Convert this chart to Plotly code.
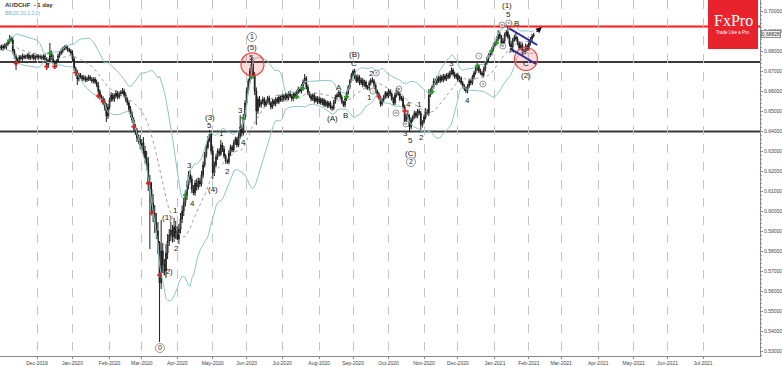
import numpy as np
import pandas as pd
import plotly.graph_objects as go

# ---------------- data ----------------
START_DATE = "2019-10-30"
FIRST_OPEN = 0.6815
# daily closes in pips (x 0.0001)
CLOSE_PIPS = [
    6820, 6815, 6825, 6818, 6835, 6848, 6862, 6855, 6800, 6772,
    6745, 6758, 6770, 6762, 6775, 6768, 6772, 6780, 6765, 6770,
    6778, 6762, 6770, 6775, 6768, 6772, 6765, 6775, 6760, 6728,
    6748, 6792, 6770, 6745, 6728, 6750, 6775, 6790, 6800, 6812,
    6822, 6815, 6808, 6800, 6790, 6760, 6712, 6690, 6660, 6680,
    6672, 6660, 6668, 6655, 6662, 6670, 6658, 6650, 6660, 6645,
    6630, 6598, 6570, 6560, 6545, 6520, 6475, 6520, 6555, 6580,
    6560, 6575, 6590, 6570, 6585, 6595, 6600, 6580, 6560, 6540,
    6510, 6480, 6455, 6420, 6395, 6365, 6355, 6330, 6340, 6300,
    6265, 6240, 6140, 6110, 6040, 5990, 5940, 5900, 5840, 5640,
    5800, 5730, 5700, 5790, 5850, 5880, 5905, 5870, 5920, 5890,
    5860, 5910, 5960, 6000, 6040, 6075, 6130, 6180, 6160, 6110,
    6090, 6140, 6120, 6150, 6135, 6180, 6230, 6280, 6320, 6360,
    6385, 6300, 6190, 6230, 6270, 6300, 6285, 6330, 6310, 6275,
    6250, 6245, 6290, 6320, 6305, 6340, 6360, 6330, 6375, 6420,
    6390, 6470, 6540, 6600, 6650, 6700, 6735, 6680, 6600, 6500,
    6560, 6530, 6545, 6560, 6530, 6545, 6565, 6540, 6520, 6550,
    6535, 6560, 6545, 6570, 6555, 6575, 6560, 6580, 6565, 6590,
    6575, 6560, 6585, 6570, 6595, 6610, 6600, 6625, 6645, 6665,
    6620, 6590, 6575, 6560, 6580, 6550, 6565, 6545, 6560, 6540,
    6555, 6530, 6545, 6525, 6540, 6520, 6515, 6545, 6570, 6580,
    6595, 6570, 6545, 6530, 6560, 6590, 6620, 6650, 6680, 6700,
    6670, 6650, 6670, 6640, 6655, 6630, 6645, 6620, 6615, 6640,
    6655, 6650, 6630, 6600, 6585, 6565, 6535, 6555, 6570, 6590,
    6575, 6600, 6585, 6560, 6540, 6580, 6605, 6585, 6560, 6565,
    6520, 6450, 6480, 6470, 6420, 6455, 6470, 6490, 6475, 6500,
    6490, 6430, 6445, 6470, 6500, 6490, 6580, 6600, 6620, 6650,
    6640, 6665, 6650, 6670, 6655, 6675, 6660, 6680, 6670, 6690,
    6705, 6685, 6670, 6680, 6655, 6665, 6640, 6625, 6610, 6600,
    6625, 6650, 6640, 6670, 6690, 6710, 6725, 6700, 6690, 6680,
    6710, 6740, 6760, 6780, 6790, 6810, 6830, 6840, 6860, 6885,
    6870, 6840, 6850, 6880, 6895, 6870, 6835, 6820, 6855, 6870,
    6860, 6840, 6815, 6830, 6800, 6795, 6825, 6810, 6840, 6860,
    6875, 6883,
]
# upper / lower shadow lengths in pips
UP_WICK = [
    10, 12, 8, 14, 10, 9, 18, 12, 15, 10,
    12, 8, 10, 9, 12, 7, 10, 8, 11, 9,
    8, 12, 9, 10, 7, 11, 9, 8, 12, 10,
    14, 48, 10, 12, 9, 8, 11, 10, 12, 9,
    6, 10, 12, 8, 10, 14, 12, 10, 15, 12,
    10, 9, 12, 8, 10, 11, 9, 12, 8, 10,
    12, 15, 10, 12, 14, 18, 20, 15, 12, 14,
    10, 12, 15, 10, 12, 9, 15, 12, 14, 10,
    12, 15, 18, 14, 16, 20, 18, 25, 20, 30,
    25, 35, 30, 40, 35, 45, 40, 50, 45, 10,
    155, 40, 30, 45, 35, 30, 40, 25, 45, 30,
    35, 25, 30, 28, 25, 30, 22, 20, 25, 18,
    20, 15, 22, 18, 15, 20, 18, 15, 12, 15,
    20, 15, 25, 18, 15, 12, 14, 25, 12, 15,
    10, 12, 15, 12, 10, 14, 12, 10, 15, 60,
    12, 15, 14, 18, 12, 15, 33, 20, 15, 18,
    12, 15, 10, 12, 9, 11, 10, 12, 8, 10,
    11, 9, 10, 12, 8, 10, 9, 11, 10, 8,
    12, 10, 9, 11, 10, 12, 8, 10, 12, 20,
    10, 12, 9, 10, 8, 11, 10, 9, 12, 8,
    10, 9, 11, 8, 10, 9, 8, 10, 12, 9,
    10, 9, 12, 8, 10, 12, 10, 9, 11, 8,
    12, 10, 14, 9, 11, 10, 12, 8, 10, 12,
    9, 13, 10, 12, 8, 10, 12, 9, 11, 10,
    8, 12, 10, 9, 11, 12, 10, 12, 9, 11,
    10, 12, 9, 25, 14, 12, 10, 12, 9, 10,
    12, 10, 9, 12, 14, 10, 30, 12, 10, 14,
    12, 10, 9, 12, 10, 11, 9, 10, 12, 10,
    13, 10, 12, 9, 10, 12, 8, 10, 9, 11,
    10, 12, 9, 11, 10, 12, 13, 10, 12, 9,
    12, 10, 11, 9, 12, 10, 12, 9, 14, 20,
    12, 10, 15, 12, 10, 27, 12, 14, 10, 12,
    20, 12, 10, 14, 12, 10, 12, 9, 12, 10,
    9, 8,
]
DN_WICK = [
    12, 10, 14, 9, 11, 10, 12, 10, 15, 12,
    40, 10, 12, 9, 11, 10, 8, 12, 10, 9,
    11, 9, 10, 8, 12, 9, 10, 11, 9, 23,
    12, 10, 14, 12, 8, 10, 9, 11, 10, 12,
    9, 10, 12, 8, 11, 14, 12, 15, 30, 12,
    10, 12, 9, 11, 10, 12, 8, 10, 12, 9,
    11, 12, 14, 10, 15, 18, 30, 15, 12, 10,
    12, 14, 10, 12, 9, 11, 10, 12, 14, 12,
    15, 12, 14, 18, 15, 20, 18, 22, 25, 30,
    28, 35, 40, 300, 40, 45, 50, 40, 55, 295,
    30, 40, 20, 35, 30, 25, 30, 28, 25, 30,
    5, 25, 22, 20, 25, 18, 20, 22, 18, 20,
    10, 15, 18, 14, 16, 12, 15, 12, 14, 12,
    15, 18, 30, 15, 12, 14, 12, 10, 15, 12,
    14, 10, 12, 14, 10, 12, 9, 12, 10, 14,
    18, 12, 15, 12, 14, 12, 15, 18, 20, 70,
    15, 12, 14, 10, 12, 9, 11, 10, 12, 9,
    10, 12, 8, 11, 9, 10, 12, 8, 10, 11,
    9, 12, 10, 8, 11, 10, 9, 12, 10, 11,
    12, 10, 9, 11, 10, 12, 8, 10, 11, 9,
    12, 10, 9, 11, 10, 12, 15, 10, 9, 11,
    10, 12, 9, 10, 12, 10, 9, 11, 8, 10,
    12, 10, 9, 11, 10, 12, 9, 11, 10, 12,
    10, 9, 12, 10, 11, 9, 13, 10, 12, 9,
    11, 10, 12, 9, 15, 10, 12, 9, 11, 10,
    12, 20, 10, 12, 25, 12, 10, 9, 12, 10,
    11, 28, 12, 10, 12, 9, 15, 10, 12, 9,
    10, 12, 9, 11, 10, 12, 9, 10, 11, 9,
    10, 12, 9, 11, 10, 12, 9, 11, 10, 10,
    12, 9, 11, 10, 12, 9, 10, 11, 9, 8,
    10, 12, 9, 11, 10, 12, 9, 11, 10, 12,
    11, 15, 10, 12, 9, 11, 12, 10, 12, 9,
    11, 12, 10, 9, 25, 12, 10, 11, 9, 12,
    10, 8,
]
LAST_PRICE = 0.68828

# indicator marks (bar index, price)
RED_MARK_IDX = [10, 29, 34, 47, 61, 64, 83, 92, 94, 99, 235, 251]
RED_MARK_PRICE = [0.6738, 0.6722, 0.6722, 0.6692, 0.6575, 0.6547, 0.6422, 0.6138, 0.5990, 0.5680, 0.6572, 0.6500]
GREEN_MARK_IDX = [6, 31, 115, 151, 156, 184, 188, 215, 268, 296, 305, 308]
GREEN_MARK_PRICE = [0.6852, 0.6788, 0.6080, 0.6465, 0.6670, 0.6572, 0.6613, 0.6572, 0.6597, 0.6725, 0.6800, 0.6840]

# wave labels: text, bar index, price
WAVE_TEXT = ["(1)", "(2)", "1", "2", "3", "4", "(3)", "5", "(4)", "1", "2", "3", "4",
             "5", "(5)", "(A)", "A", "B", "C", "(B)", "1", "2", "4", "3", "5", "(C)",
             "1", "2", "3", "4", "(1)", "5", "B", "A", "C", "(2)"]
WAVE_IDX = [103.6, 104.2, 109.1, 109.8, 117.8, 119.7, 130.2, 130.2, 132.1, 137.7, 141.4, 149.4, 151.3,
            156.3, 156.3, 206.5, 210.2, 214.6, 219.5, 220.1, 229.4, 230.7, 253.6, 251.8, 254.9, 254.9,
            260.4, 261.7, 280.3, 290.2, 314.4, 315.6, 320.6, 317.5, 326.2, 326.2]
WAVE_PRICE = [0.5970, 0.5700, 0.6005, 0.5815, 0.6230, 0.6040, 0.6470, 0.6430, 0.6110, 0.6390, 0.6200, 0.6505, 0.6345,
              0.6770, 0.6820, 0.6465, 0.6620, 0.6480, 0.6740, 0.6785, 0.6570, 0.6690, 0.6535, 0.6390, 0.6355, 0.6290,
              0.6535, 0.6370, 0.6740, 0.6555, 0.7030, 0.6985, 0.6940, 0.6805, 0.6740, 0.6680]
# circled labels
CIRC_TEXT = ["1", "2", "0", "i", "ii", "iii", "iv", "v", "i", "ii", "iii", "iv", "v"]
CIRC_IDX = [156.3, 254.9, 99.2, 231.3, 233.4, 245.6, 247.4, 251.8, 297.0, 299.5, 311.3, 311.9, 315.6]
CIRC_PRICE = [0.6870, 0.6245, 0.5315, 0.6600, 0.6690, 0.6490, 0.6610, 0.6435, 0.6775, 0.6635, 0.6930, 0.6825, 0.6940]
CIRC_BIG = [True, True, True] + [False] * 10

# drawn objects
LEVEL_RED = [0.6923]
LEVEL_BLACK = [0.6745, 0.6397]
RING_IDX = [156.6, 326.2]
RING_PRICE = [0.6733, 0.6760]
CHANNEL_UP = [(315.8, 0.69135), (333.2, 0.6830)]
CHANNEL_DN = [(316.3, 0.68135), (332.4, 0.6735)]
ARROW = [(331.8, 0.6890), (336.1, 0.6920)]

# ---------------- derived series ----------------
closes = np.array(CLOSE_PIPS) / 10000.0
n = len(closes)
opens = np.concatenate([[FIRST_OPEN], closes[:-1]])
highs = np.maximum(opens, closes) + np.array(UP_WICK) / 10000.0
lows = np.minimum(opens, closes) - np.array(DN_WICK) / 10000.0
bars = np.arange(n)

s = pd.Series(closes)
mid = s.rolling(20, min_periods=5).mean()
sd = s.rolling(20, min_periods=5).std(ddof=0)
bb_up = mid + 2 * sd
bb_lo = mid - 2 * sd

dates = pd.bdate_range(START_DATE, "2021-09-30")
months = pd.date_range("2019-12-01", "2021-07-01", freq="MS")
tickvals, ticktext = [], []
for m in months:
    tickvals.append(int(np.searchsorted(dates.values, np.datetime64(m))))
    ticktext.append(m.strftime("%b-%Y"))

# pixel calibration of the time axis
PLOT_W = 760
PLOT_H = 356
ppb = (703 - 37) / (tickvals[-1] - tickvals[0])
xmin = tickvals[0] - 37 / ppb
xmax = xmin + PLOT_W / ppb

FONT = "Liberation Sans, Arial, sans-serif"
BAND = "#8cc6c6"

fig = go.Figure()
fig.add_trace(go.Scatter(x=bars, y=bb_up, mode="lines", line=dict(color=BAND, width=1), hoverinfo="skip"))
fig.add_trace(go.Scatter(x=bars, y=bb_lo, mode="lines", line=dict(color=BAND, width=1), hoverinfo="skip"))
fig.add_trace(go.Scatter(x=bars, y=mid, mode="lines", line=dict(color="#a0a0a0", width=1, dash="dot"), hoverinfo="skip"))
fig.add_trace(go.Candlestick(
    x=bars, open=opens, high=highs, low=lows, close=closes,
    increasing=dict(line=dict(color="#1e1e1e", width=1), fillcolor="#ffffff"),
    decreasing=dict(line=dict(color="#1e1e1e", width=1), fillcolor="#1e1e1e"),
    whiskerwidth=0, hoverinfo="skip"))
fig.add_trace(go.Scatter(x=RED_MARK_IDX, y=RED_MARK_PRICE, mode="markers",
                         marker=dict(symbol="cross", size=4, color="#d42020"), hoverinfo="skip"))
fig.add_trace(go.Scatter(x=GREEN_MARK_IDX, y=GREEN_MARK_PRICE, mode="markers",
                         marker=dict(symbol="cross", size=4, color="#1f9a1f"), hoverinfo="skip"))
fig.add_trace(go.Scatter(
    x=CIRC_IDX, y=CIRC_PRICE, mode="markers+text", text=CIRC_TEXT,
    textposition="middle center",
    textfont=dict(family=FONT, size=[7 if b else 4 for b in CIRC_BIG], color="#222"),
    marker=dict(symbol="circle", size=[9 if b else 6 for b in CIRC_BIG], color="white",
                line=dict(color="#444", width=0.8)),
    hoverinfo="skip"))

shapes = []
for lv in LEVEL_RED:
    shapes.append(dict(type="line", xref="paper", x0=0, x1=1, yref="y", y0=lv, y1=lv,
                       line=dict(color="#ff1a1a", width=2), layer="below"))
for lv in LEVEL_BLACK:
    shapes.append(dict(type="line", xref="paper", x0=0, x1=1, yref="y", y0=lv, y1=lv,
                       line=dict(color="#3a3a3a", width=2), layer="below"))
for xi, yi in zip(RING_IDX, RING_PRICE):
    shapes.append(dict(type="circle", xref="x", yref="y", xsizemode="pixel", ysizemode="pixel",
                       xanchor=xi, yanchor=yi, x0=-11.5, x1=11.5, y0=-11.5, y1=11.5,
                       fillcolor="rgba(255,60,60,0.18)", line=dict(color="#f04040", width=1.2)))
for seg in (CHANNEL_UP, CHANNEL_DN):
    shapes.append(dict(type="line", xref="x", yref="y", x0=seg[0][0], y0=seg[0][1],
                       x1=seg[1][0], y1=seg[1][1], line=dict(color="#2d2d9c", width=2)))
# FxPro logo block
shapes.append(dict(type="rect", xref="paper", yref="paper", x0=708 / PLOT_W, x1=758 / PLOT_W,
                   y0=1 - 49 / PLOT_H, y1=1, fillcolor="#e8232b", line=dict(width=0), layer="above"))

annotations = []
for t, xi, yi in zip(WAVE_TEXT, WAVE_IDX, WAVE_PRICE):
    annotations.append(dict(x=xi, y=yi, text=t, showarrow=False, xref="x", yref="y",
                            xanchor="center", yanchor="middle",
                            font=dict(family=FONT, size=8, color="#222")))
annotations.append(dict(x=ARROW[1][0], y=ARROW[1][1], ax=ARROW[0][0], ay=ARROW[0][1],
                        axref="x", ayref="y", xref="x", yref="y", showarrow=True,
                        arrowhead=2, arrowsize=1, arrowwidth=1.2, arrowcolor="#111", text=""))
annotations.append(dict(x=3 / PLOT_W, y=1 - 5 / PLOT_H, xref="paper", yref="paper", xanchor="left",
                        yanchor="middle", showarrow=False, text="<b>AUDCHF  - 1 day</b>",
                        font=dict(family=FONT, size=6, color="#333")))
annotations.append(dict(x=3 / PLOT_W, y=1 - 13 / PLOT_H, xref="paper", yref="paper", xanchor="left",
                        yanchor="middle", showarrow=False, text="BB(20,20,2.0,0)",
                        font=dict(family=FONT, size=5, color="#6fb3c0")))
annotations.append(dict(x=733 / PLOT_W, y=1 - 21 / PLOT_H, xref="paper", yref="paper",
                        xanchor="center", yanchor="middle",
                        showarrow=False, text="FxPro",
                        font=dict(family="Liberation Serif, DejaVu Serif, serif", size=16, color="white")))
annotations.append(dict(x=733 / PLOT_W, y=1 - 32 / PLOT_H, xref="paper", yref="paper",
                        xanchor="center", yanchor="middle",
                        showarrow=False, text="Trade Like a Pro",
                        font=dict(family=FONT, size=4.5, color="white")))
annotations.append(dict(x=1, y=LAST_PRICE, xref="paper", yref="y", xanchor="left", yanchor="middle",
                        xshift=1, showarrow=False, text=f"{LAST_PRICE:.5f}",
                        font=dict(family=FONT, size=5, color="#333"),
                        bgcolor="#f4f4f4", bordercolor="#777", borderwidth=0.8, borderpad=0))

fig.update_layout(
    width=782, height=366, margin=dict(l=0, r=22, t=0, b=10),
    paper_bgcolor="white", plot_bgcolor="white", showlegend=False,
    shapes=shapes, annotations=annotations,
    xaxis=dict(range=[xmin, xmax], tickmode="array", tickvals=tickvals, ticktext=ticktext,
               tickfont=dict(family=FONT, size=5, color="#444"),
               showgrid=True, gridcolor="#c4c4c4", griddash="dash", gridwidth=1,
               ticks="outside", ticklen=2, tickcolor="#888",
               showline=True, linecolor="#888", linewidth=1, mirror=True,
               zeroline=False, rangeslider=dict(visible=False), automargin=False),
    yaxis=dict(side="right", range=[0.5275, 0.7055], tick0=0.53, dtick=0.01, tickformat=".5f",
               tickfont=dict(family=FONT, size=5, color="#444"),
               showgrid=False, ticks="outside", ticklen=2, tickcolor="#888",
               minor=dict(dtick=0.002, ticks="outside", ticklen=1, tickcolor="#999"),
               showline=True, linecolor="#888", linewidth=1, mirror=True,
               zeroline=False, automargin=False),
)

fig.write_html("out.html")
